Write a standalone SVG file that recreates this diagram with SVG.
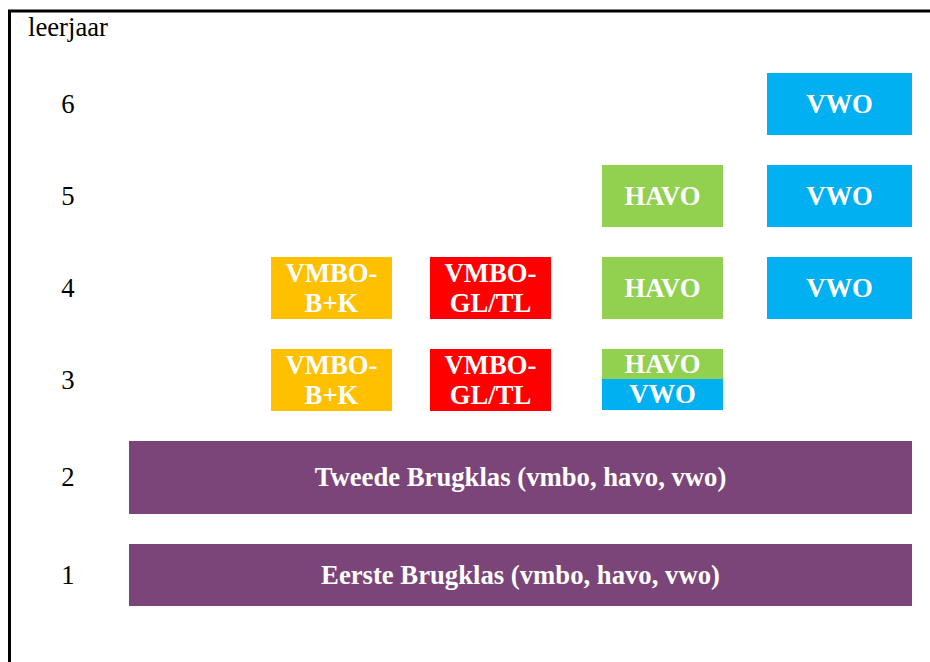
<svg xmlns="http://www.w3.org/2000/svg" width="930" height="662" viewBox="0 0 930 662">
<style>
.lbl{font-family:"Liberation Serif","Times New Roman",serif;font-size:26.7px;fill:#000}
.bx{font-family:"Liberation Serif","Times New Roman",serif;font-size:26.7px;font-weight:bold;fill:#fff;text-anchor:middle}
.num{text-anchor:middle}
.vwo{fill:#00B0F0}.havo{fill:#92D050}.bk{fill:#FFC000}.gl{fill:#FF0000}.brug{fill:#7B4579}
</style>
<rect width="930" height="662" fill="#fff"/>
<path d="M9.5,662 V11 H930" fill="none" stroke="#000" stroke-width="3"/>
<g id="labels">
<text class="lbl" x="28" y="36">leerjaar</text>
<text class="lbl num" x="68" y="113">6</text>
<text class="lbl num" x="68" y="205">5</text>
<text class="lbl num" x="68" y="297">4</text>
<text class="lbl num" x="68" y="389">3</text>
<text class="lbl num" x="68" y="486">2</text>
<text class="lbl num" x="68" y="584">1</text>
</g>
<g id="vwo6"><rect class="vwo" x="767" y="73" width="145" height="62"/><text class="bx" x="839.5" y="113">VWO</text></g>
<g id="havo5"><rect class="havo" x="602" y="165" width="121" height="62"/><text class="bx" x="662.5" y="205">HAVO</text></g>
<g id="vwo5"><rect class="vwo" x="767" y="165" width="145" height="62"/><text class="bx" x="839.5" y="205">VWO</text></g>
<g id="bk4"><rect class="bk" x="271" y="257" width="121" height="62"/><text class="bx" x="331.5" y="282">VMBO-</text><text class="bx" x="331.5" y="312">B+K</text></g>
<g id="gl4"><rect class="gl" x="430" y="257" width="121" height="62"/><text class="bx" x="490.5" y="282">VMBO-</text><text class="bx" x="490.5" y="312">GL/TL</text></g>
<g id="havo4"><rect class="havo" x="602" y="257" width="121" height="62"/><text class="bx" x="662.5" y="297">HAVO</text></g>
<g id="vwo4"><rect class="vwo" x="767" y="257" width="145" height="62"/><text class="bx" x="839.5" y="297">VWO</text></g>
<g id="bk3"><rect class="bk" x="271" y="349" width="121" height="62"/><text class="bx" x="331.5" y="374">VMBO-</text><text class="bx" x="331.5" y="404">B+K</text></g>
<g id="gl3"><rect class="gl" x="430" y="349" width="121" height="62"/><text class="bx" x="490.5" y="374">VMBO-</text><text class="bx" x="490.5" y="404">GL/TL</text></g>
<g id="havovwo3"><rect class="havo" x="602" y="349" width="121" height="30"/><rect class="vwo" x="602" y="379" width="121" height="31"/><text class="bx" x="662.5" y="373">HAVO</text><text class="bx" x="662.5" y="403">VWO</text></g>
<g id="tweede"><rect class="brug" x="129" y="441" width="783" height="73"/><text class="bx" x="520.5" y="486">Tweede Brugklas (vmbo, havo, vwo)</text></g>
<g id="eerste"><rect class="brug" x="129" y="544" width="783" height="62"/><text class="bx" x="520.5" y="584">Eerste Brugklas (vmbo, havo, vwo)</text></g>
<g id="connectors"></g>
</svg>
